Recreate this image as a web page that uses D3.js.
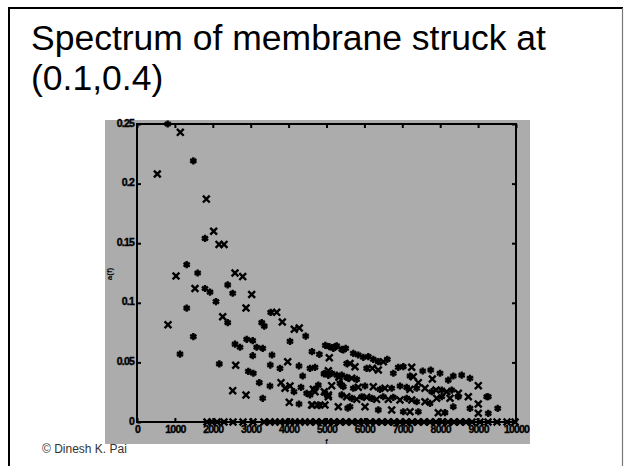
<!DOCTYPE html>
<html>
<head>
<meta charset="utf-8">
<script src="https://cdn.jsdelivr.net/npm/d3@7"></script>
<style>
  html,body{margin:0;padding:0;background:#fff}
  svg{display:block}
</style>
</head>
<body>
<div id="chart"></div>
<script>
const TITLE = ['Spectrum of membrane struck at', '(0.1,0.4)'];
const FOOTER = '\u00a9 Dinesh K. Pai';
const X_LABEL = 'f';
const Y_LABEL = 'a(f)';
const X_TICKS = [0,1000,2000,3000,4000,5000,6000,7000,8000,9000,10000];
const Y_TICKS = [0,0.05,0.1,0.15,0.2,0.25];

// '*' markers: frequency (Hz), amplitude
const STAR_F = [810,1486,1794,1311,1601,1794,1926,2393,2525,2084,1311,2393,3290,3359,3527,1486,1135,
  2586,2718,2894,3053,3158,3317,3053,3562,4037,4451,2172,2937,3069,3518,3773,4274,4371,4565,4697,4617,
  3227,3509,4142,4327,4477,3317,4274,
  4969,5224,5401,5506,5533,4811,4934,5048,5401,5576,4678,5356,5444,4811,5559,
  5074,5180,5269,5444,5708,5839,5971,6103,6235,6367,6604,6060,6763,6894,7026,7203,7538,7749,7995,8214,
  8346,8567,8786,9227,
  4960,5136,5269,5533,5797,4784,5401,5708,6016,6411,6720,6939,7116,7380,7776,8040,8303,
  4565,4960,5401,5665,5928,6192,6499,6763,7116,7380,7731,8040,8478,
  4784,5620,6367,7026,7423,8126,8346,8786,9269,9517,9269];
const STAR_A = [0.25,0.219,0.154,0.132,0.125,0.112,0.109,0.115,0.108,0.101,0.0956,0.0833,0.0833,0.0805,0.092,0.0716,0.057,
  0.0654,0.0627,0.0694,0.0682,0.0627,0.0618,0.0556,0.0562,0.0677,0.0721,0.0487,0.0425,0.0409,0.0478,0.045,0.047,0.0386,0.045,0.0459,0.059,
  0.033,0.0302,0.0254,0.0291,0.0241,0.0199,0.0151,
  0.0643,0.0632,0.061,0.0618,0.049,0.0568,0.0403,0.0392,0.0394,0.0367,0.0274,0.0325,0.0296,0.0137,0.0117,
  0.0632,0.0618,0.0638,0.0604,0.0576,0.0562,0.0543,0.0548,0.0526,0.0506,0.0526,0.045,0.0409,0.0459,0.0464,0.0386,0.0428,0.0436,0.0409,0.0352,
  0.0386,0.0394,0.0367,0.0212,
  0.0409,0.0409,0.0394,0.0375,0.0358,0.031,0.031,0.0283,0.0302,0.0274,0.0283,0.0302,0.0291,0.0283,0.0254,0.0268,0.0268,
  0.0227,0.0241,0.0227,0.0199,0.0212,0.0199,0.0212,0.0207,0.0199,0.017,0.0157,0.0212,0.0212,
  0.0143,0.0128,0.0101,0.0086,0.0086,0.0078,0.0128,0.0115,0.0073,0.0115,0.0212];

// 'x' markers: frequency (Hz), amplitude
const CROSS_F = [1143,536,1829,2023,2164,2296,1029,1530,2586,2789,3026,2876,2261,818,3686,3834,4150,4282,
  2604,3976,3800,3905,4037,4652,2525,2876,4018,4609,
  5074,4942,5048,4626,5312,5620,5752,6209,6367,6499,7248,7291,7792,9005,7423,8742,9005,
  5048,5136,5328,5665,5839,6235,6543,7203,7599,7889,8171,8478,
  4697,5048,5533,5797,6060,6323,6631,6939,7248,7599,7907,8259,
  4960,6016,6720,7203,7950,9005,
  1847,1979,2111,2295,2533,2797,3061,3351,3509,3641,3773,3905,4037,4169,4301,4433,4565,4723,4881,5040,
  5198,5356,5514,5673,5831,5989,6148,6306,6464,6623,6781,6939,7098,7256,7414,7572,7731,7889,8047,8206,
  8364,8522,8681,8839,9050,9261,9499,9763,9974];
const CROSS_A = [0.243,0.208,0.187,0.160,0.149,0.149,0.1225,0.112,0.125,0.122,0.107,0.0956,0.0883,0.0816,0.092,0.0839,0.0778,0.0789,
  0.0476,0.0506,0.033,0.0283,0.0302,0.0274,0.0263,0.0227,0.0165,0.0143,
  0.0539,0.0254,0.0227,0.0143,0.0128,0.049,0.0464,0.045,0.0436,0.0506,0.0459,0.038,0.0361,0.0305,0.033,0.0212,0.0151,
  0.043,0.0305,0.0375,0.0367,0.0291,0.0296,0.0283,0.0274,0.0283,0.0268,0.0254,0.0241,
  0.0254,0.0212,0.0212,0.019,0.0207,0.019,0.019,0.0185,0.0185,0.017,0.0199,0.0199,
  0.0143,0.0128,0.0101,0.0086,0.0078,0.0073,
  0,0,0,0,0,0,0,0,0,0,0,0,0,0,0,0,0,0,0,0,
  0,0,0,0,0,0,0,0,0,0,0,0,0,0,0,0,0,0,0,0,
  0,0,0,0,0,0,0,0,0];

const W = 624, H = 466;
const svg = d3.select('#chart').append('svg').attr('width', W).attr('height', H);

// slide frame
svg.append('line').attr('x1',9).attr('y1',8).attr('x2',9).attr('y2',H).attr('stroke','#000').attr('stroke-width',2);
svg.append('line').attr('x1',8).attr('y1',8).attr('x2',623).attr('y2',8).attr('stroke','#000').attr('stroke-width',2);
svg.append('line').attr('x1',622.5).attr('y1',8).attr('x2',622.5).attr('y2',H).attr('stroke','#777').attr('stroke-width',1.2);

// title
svg.selectAll('text.title').data(TITLE).join('text').attr('class','title')
  .attr('x',31).attr('y',(d,i)=>50+i*40)
  .attr('font-family','Liberation Sans, Arial, sans-serif').attr('font-size','35.5px')
  .attr('fill','#000').text(d=>d);

// figure panel
svg.append('rect').attr('x',105).attr('y',120).attr('width',425).attr('height',324).attr('fill','#acacac');

const x = d3.scaleLinear().domain([0,10000]).range([137,516]);
const y = d3.scaleLinear().domain([0,0.25]).range([422,124]);
const tickFont = 'Liberation Sans, Arial, sans-serif';

// box
svg.append('rect').attr('x',x(0)).attr('y',y(0.25)).attr('width',x(10000)-x(0)).attr('height',y(0)-y(0.25))
  .attr('fill','none').attr('stroke','#000').attr('stroke-width',2);

// axes
const xb = svg.append('g').attr('transform',`translate(0,${y(0)})`)
  .call(d3.axisBottom(x).tickValues(X_TICKS).tickSize(-4).tickPadding(5).tickFormat(d3.format('d')));
const xt = svg.append('g').attr('transform',`translate(0,${y(0.25)})`)
  .call(d3.axisTop(x).tickValues(X_TICKS).tickSize(-4).tickFormat(''));
const yl = svg.append('g').attr('transform',`translate(${x(0)},0)`)
  .call(d3.axisLeft(y).tickValues(Y_TICKS).tickSize(-4).tickPadding(3).tickFormat(d=>d3.format('')(+d.toFixed(2))));
const yr = svg.append('g').attr('transform',`translate(${x(10000)},0)`)
  .call(d3.axisRight(y).tickValues(Y_TICKS).tickSize(-4).tickFormat(''));
[xb,xt,yl,yr].forEach(g=>{
  g.select('.domain').remove();
  g.selectAll('.tick line').attr('stroke','#000').attr('stroke-width',2);
  g.selectAll('text').attr('fill','#000').attr('font-family',tickFont)
    .attr('font-size','10.5px').attr('font-weight','bold').attr('letter-spacing','-0.8px')
    .attr('stroke','#000').attr('stroke-width',0.4);
});
xb.selectAll('text').attr('dy','0.6em');
yl.selectAll('text').attr('dy','0.2em');

// axis labels
svg.append('text').attr('x',(x(0)+x(10000))/2).attr('y',444).attr('text-anchor','middle')
  .attr('font-family',tickFont).attr('font-size','7.5px').attr('font-weight','bold').text(X_LABEL);
svg.append('text').attr('transform','translate(112,274) rotate(-90)').attr('text-anchor','middle')
  .attr('font-family',tickFont).attr('font-size','8px').attr('font-weight','bold').text(Y_LABEL);

// markers
const star = d3.symbol().type(d3.symbolAsterisk).size(36);
const cross = d3.symbol().type(d3.symbolTimes).size(32);
const plot = svg.append('g');
plot.selectAll('path.s').data(STAR_F.map((f,i)=>[f,STAR_A[i]])).join('path').attr('class','s')
  .attr('transform',d=>`translate(${x(d[0])},${y(d[1])})`).attr('d',star)
  .attr('fill','none').attr('stroke','#000').attr('stroke-width',2.4);
plot.selectAll('path.c').data(CROSS_F.map((f,i)=>[f,CROSS_A[i]])).join('path').attr('class','c')
  .attr('transform',d=>`translate(${x(d[0])},${y(d[1])})`).attr('d',cross)
  .attr('fill','none').attr('stroke','#000').attr('stroke-width',2.4);

// footer
svg.append('text').attr('x',42).attr('y',453).attr('font-family','Liberation Sans, Arial, sans-serif')
  .attr('font-size','12px').attr('fill','#333').text(FOOTER);
</script>
</body>
</html>
